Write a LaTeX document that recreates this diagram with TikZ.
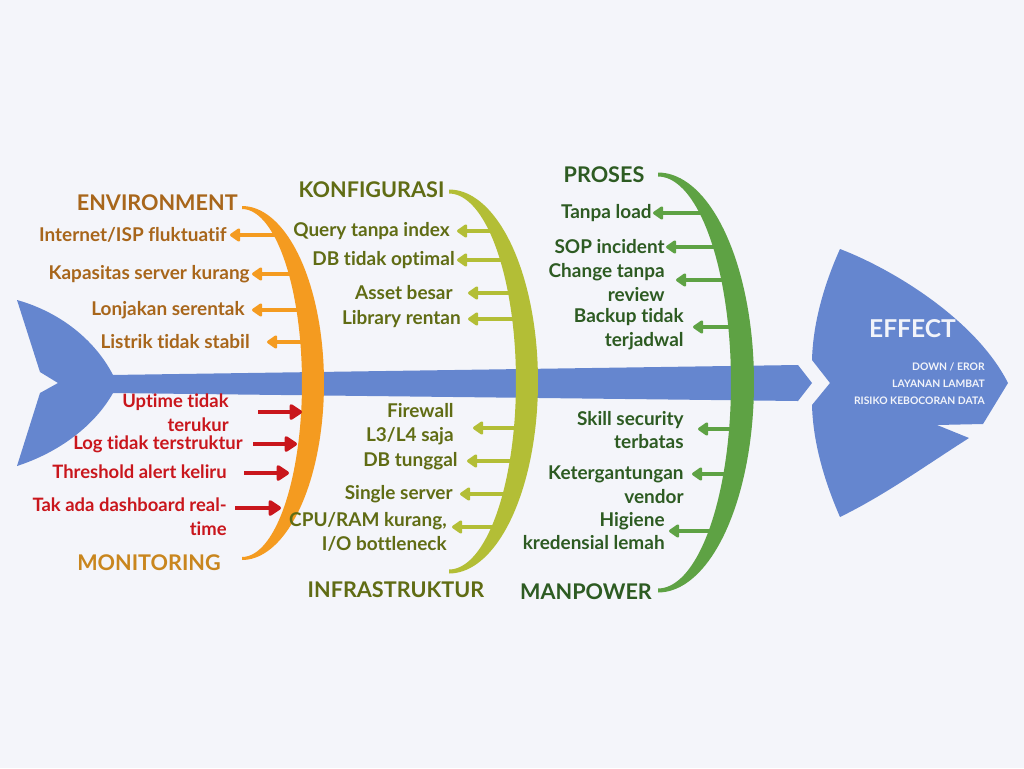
\documentclass[tikz,border=0pt]{standalone}
\usepackage{fontspec}
\setmainfont{Lato}[Ligatures={NoCommon,NoRare}]
\usetikzlibrary{arrows.meta}
\definecolor{bg}{HTML}{F4F5FA}
\definecolor{fish}{HTML}{6586CF}
\definecolor{orangebone}{HTML}{F49B20}
\definecolor{envtext}{HTML}{A8661B}
\definecolor{montext}{HTML}{C9861E}
\definecolor{alertred}{HTML}{C9161C}
\definecolor{olivebone}{HTML}{B3BE36}
\definecolor{olivetext}{HTML}{606C14}
\definecolor{greenbone}{HTML}{5EA244}
\definecolor{greentext}{HTML}{2D5B22}
\definecolor{effecttext}{HTML}{F2F4FA}
\begin{document}
\begin{tikzpicture}[x=0.02cm,y=-0.02cm,
  item/.style={font=\bfseries\fontsize{10.8}{13.6}\selectfont, inner sep=0pt, align=right, anchor=east},
  reditem/.style={item, font=\bfseries\fontsize{10.5}{13.6}\selectfont, alertred},
  head/.style={font=\bfseries\fontsize{12.3}{15}\selectfont, inner sep=0pt},
  leftarr/.style={line width=2pt, -{Triangle[length=6.5pt,width=8.5pt,round]}},
  redarr/.style={draw=alertred, line width=2.5pt, -{Triangle[length=8pt,width=10pt,round]}}]
\useasboundingbox (0,0) rectangle (1024,768);
\fill[bg] (0,0) rectangle (1024,768);

% ---- fish tail, spine and head ----
\fill[fish] (113,375) .. controls (95,340) and (60,312) .. (17,300)
  -- (40,372) -- (58,383) -- (40,393) -- (17,466)
  .. controls (60,452) and (95,425) .. (113,393) -- cycle;
\fill[fish] (110,375) -- (798,365) -- (812,383) -- (798,401) -- (110,393) -- cycle;
\fill[fish] (840,249) .. controls (890,268) and (975,318) .. (1008,383)
  -- (983,424) -- (937,425) -- (969,438)
  .. controls (925,466) and (885,495) .. (840,517)
  .. controls (826,485) and (813,445) .. (812,405)
  -- (830,383) -- (812,360)
  .. controls (813,320) and (826,280) .. (840,249) -- cycle;

% ---- arrow end points ----
\coordinate (e1a) at (277,235); \coordinate (e1b) at (230,235);
\coordinate (e2a) at (292,274); \coordinate (e2b) at (252,274);
\coordinate (e3a) at (300,310); \coordinate (e3b) at (252,310);
\coordinate (e4a) at (304,342); \coordinate (e4b) at (267,342);
\coordinate (k1a) at (493,231); \coordinate (k1b) at (457,231);
\coordinate (k2a) at (504,260); \coordinate (k2b) at (457,260);
\coordinate (k3a) at (512,293); \coordinate (k3b) at (468,293);
\coordinate (k4a) at (516,319); \coordinate (k4b) at (468,319);
\coordinate (i1a) at (518,428); \coordinate (i1b) at (473,428);
\coordinate (i2a) at (513,461); \coordinate (i2b) at (467,461);
\coordinate (i3a) at (506,494); \coordinate (i3b) at (460,494);
\coordinate (i4a) at (495,527); \coordinate (i4b) at (452,527);
\coordinate (p1a) at (703,213); \coordinate (p1b) at (653,213);
\coordinate (p2a) at (717,247); \coordinate (p2b) at (666,247);
\coordinate (p3a) at (725,280); \coordinate (p3b) at (676,280);
\coordinate (p4a) at (732,327); \coordinate (p4b) at (693,327);
\coordinate (m1a) at (733,429); \coordinate (m1b) at (698,429);
\coordinate (m2a) at (727,474); \coordinate (m2b) at (692,474);
\coordinate (m3a) at (712,531); \coordinate (m3b) at (669,531);
\coordinate (r1a) at (258,412); \coordinate (r1b) at (302,412);
\coordinate (r2a) at (253,444); \coordinate (r2b) at (297,444);
\coordinate (r3a) at (244,473); \coordinate (r3b) at (289,473);
\coordinate (r4a) at (235,508); \coordinate (r4b) at (281,508);

% ---- branch arrows ----
\foreach \n in {e1,e2,e3,e4} \draw[leftarr, orangebone] (\n a) -- (\n b);
\foreach \n in {k1,k2,k3,k4,i1,i2,i3,i4} \draw[leftarr, olivebone] (\n a) -- (\n b);
\foreach \n in {p1,p2,p3,p4,m1,m2,m3} \draw[leftarr, greenbone] (\n a) -- (\n b);

% ---- curved bones ----
\fill[orangebone] plot[domain=-90:90,samples=80] ({242+82*cos(\x)},{383+177*sin(\x)})
  -- plot[domain=90:-90,samples=80] ({242+60*cos(\x)},{383+174*sin(\x)}) -- cycle;
\fill[olivebone] plot[domain=-90:90,samples=80] ({449+89*cos(\x)},{381.5+192*sin(\x)})
  -- plot[domain=90:-90,samples=80] ({449+67*cos(\x)},{381.5+188*sin(\x)}) -- cycle;
\fill[greenbone] plot[domain=-90:90,samples=80] ({658+96*cos(\x)},{382.5+210*sin(\x)})
  -- plot[domain=90:-90,samples=80] ({658+73*cos(\x)},{382.5+206*sin(\x)}) -- cycle;

\foreach \n in {r1,r2,r3,r4} \draw[redarr] (\n a) -- (\n b);

% ---- category headings ----
\node[head, envtext, anchor=east] (henv) at (238,203) {ENVIRONMENT};
\node[head, montext] (hmon) at (149,563) {MONITORING};
\node[head, olivetext] (hkon) at (371.5,190) {KONFIGURASI};
\node[head, olivetext] (hinf) at (396,590) {INFRASTRUKTUR};
\node[head, greentext] (hpro) at (604,175) {PROSES};
\node[head, greentext] (hman) at (586,592) {MANPOWER};

% ---- causes ----
\node[item, envtext] (t1) at (227,235) {Internet/ISP fluktuatif};
\node[item, envtext] (t2) at (250,274) {Kapasitas server kurang};
\node[item, envtext] (t3) at (245,310) {Lonjakan serentak};
\node[item, envtext] (t4) at (250,342) {Listrik tidak stabil};

\node[reditem] (u1) at (229,412.5) {Uptime tidak\\terukur};
\node[reditem] (u2) at (243,444) {Log tidak terstruktur};
\node[reditem] (u3) at (227,472) {Threshold alert keliru};
\node[reditem] (u4) at (227,517) {Tak ada dashboard real-\\time};

\node[item, olivetext] (c1) at (450,231) {Query tanpa index};
\node[item, olivetext] (c2) at (455,260) {DB tidak optimal};
\node[item, olivetext] (c3) at (453,293) {Asset besar};
\node[item, olivetext] (c4) at (461,319) {Library rentan};

\node[item, olivetext] (f1) at (454,424) {Firewall\\L3/L4 saja};
\node[item, olivetext] (f2) at (458,461) {DB tunggal};
\node[item, olivetext] (f3) at (453,494) {Single server};
\node[item, olivetext] (f4) at (447,531.5) {CPU/RAM kurang,\\I/O bottleneck};

\node[item, greentext] (s1) at (652,213) {Tanpa load};
\node[item, greentext] (s2) at (665,247) {SOP incident};
\node[item, greentext] (s3) at (665,282.5) {Change tanpa\\review};
\node[item, greentext] (s4) at (684,329) {Backup tidak\\terjadwal};

\node[item, greentext] (w1) at (684,430) {Skill security\\terbatas};
\node[item, greentext] (w2) at (684,485) {Ketergantungan\\vendor};
\node[item, greentext] (w3) at (665,531) {Higiene\\kredensial lemah};

% ---- effect ----
\node[font=\bfseries\fontsize{14}{16}\selectfont, effecttext, inner sep=0pt] (eff) at (912.5,329) {EFFECT};
\node[font=\bfseries\fontsize{5.9}{9.7}\selectfont, effecttext, inner sep=0pt, align=right, anchor=east] (effl) at (985,384)
  {DOWN / EROR\\LAYANAN LAMBAT\\RISIKO KEBOCORAN DATA};
\end{tikzpicture}
\end{document}
